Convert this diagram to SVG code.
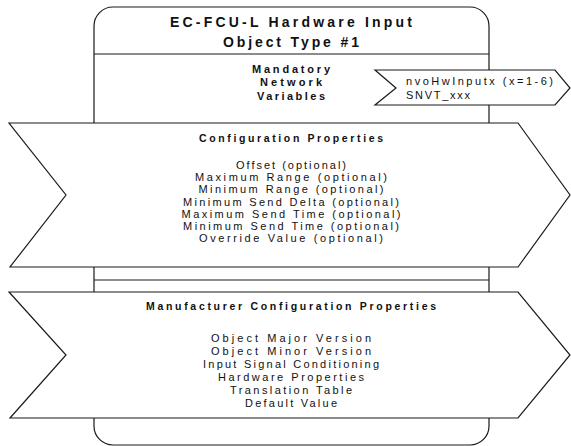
<svg xmlns="http://www.w3.org/2000/svg" width="571" height="446" viewBox="0 0 571 446">
<style>
.ln{fill:none;stroke:#1a1a1a;stroke-width:1.2}
.sh{fill:#fff;stroke:#1a1a1a;stroke-width:1.2;stroke-linejoin:miter}
text{font-family:"Liberation Sans",Arial,sans-serif;fill:#111;text-anchor:middle}
.t{font-size:14px;font-weight:bold}
.b{font-size:11px;font-weight:bold}
.h{font-size:10.5px;font-weight:bold}
.r{font-size:11px}
.nv{font-size:11px;text-anchor:start}
</style>
<g id="object">
<rect class="sh" x="94" y="7" width="395" height="438" rx="19" ry="19"/>
<line class="ln" x1="94" y1="54" x2="489" y2="54"/>
<line class="ln" x1="94" y1="280" x2="489" y2="280"/>
<text class="t" x="291" y="27" textLength="242" lengthAdjust="spacing">EC-FCU-L Hardware Input</text>
<text class="t" x="291" y="46.5" textLength="136" lengthAdjust="spacing">Object Type #1</text>
</g>
<g id="mandatory-nv">
<text class="b" x="291" y="72.5" textLength="78" lengthAdjust="spacing">Mandatory</text>
<text class="b" x="291" y="86" textLength="62" lengthAdjust="spacing">Network</text>
<text class="b" x="291" y="99.5" textLength="68" lengthAdjust="spacing">Variables</text>
</g>
<g id="nv-output">
<polygon class="sh" points="375,70 555,70 570,88 555,105 375,105 396,88"/>
<text class="nv" x="406" y="85" textLength="147" lengthAdjust="spacing">nvoHwInputx (x=1-6)</text>
<text class="nv" x="406" y="98.5" textLength="64" lengthAdjust="spacing">SNVT_xxx</text>
</g>
<g id="config-properties">
<polygon class="sh" points="9,123 518,123 570,195 518,267 10,267 66,195"/>
<text class="h" x="291" y="142" textLength="184" lengthAdjust="spacing">Configuration Properties</text>
<text class="r" x="291" y="169" textLength="110" lengthAdjust="spacing">Offset (optional)</text>
<text class="r" x="291" y="181.2" textLength="192" lengthAdjust="spacing">Maximum Range (optional)</text>
<text class="r" x="291" y="193.4" textLength="185" lengthAdjust="spacing">Minimum Range (optional)</text>
<text class="r" x="291" y="205.6" textLength="216" lengthAdjust="spacing">Minimum Send Delta (optional)</text>
<text class="r" x="291" y="217.8" textLength="219" lengthAdjust="spacing">Maximum Send Time (optional)</text>
<text class="r" x="291" y="230" textLength="216" lengthAdjust="spacing">Minimum Send Time (optional)</text>
<text class="r" x="291" y="242.2" textLength="184" lengthAdjust="spacing">Override Value (optional)</text>
</g>
<g id="manufacturer-config-properties">
<polygon class="sh" points="9,292 518,292 570,355 518,418 10,418 66,355"/>
<text class="h" x="291" y="310" textLength="290" lengthAdjust="spacing">Manufacturer Configuration Properties</text>
<text class="r" x="291" y="342" textLength="160" lengthAdjust="spacing">Object Major Version</text>
<text class="r" x="291" y="355" textLength="160" lengthAdjust="spacing">Object Minor Version</text>
<text class="r" x="291" y="368" textLength="176" lengthAdjust="spacing">Input Signal Conditioning</text>
<text class="r" x="291" y="381" textLength="146" lengthAdjust="spacing">Hardware Properties</text>
<text class="r" x="291" y="394" textLength="122" lengthAdjust="spacing">Translation Table</text>
<text class="r" x="291" y="407" textLength="92" lengthAdjust="spacing">Default Value</text>
</g>
</svg>
